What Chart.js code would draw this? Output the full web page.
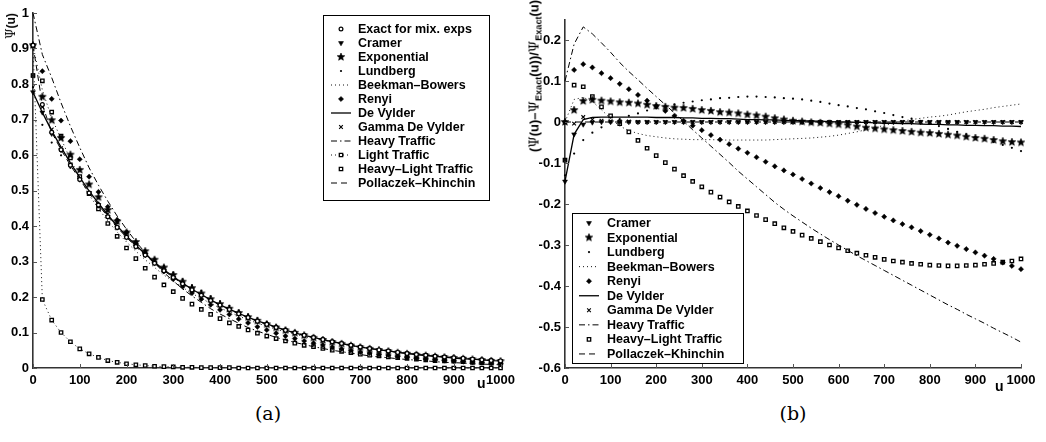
<!DOCTYPE html>
<html>
<head>
<meta charset="utf-8">
<script src="https://cdn.jsdelivr.net/npm/chart.js@4/dist/chart.umd.min.js"></script>
<style>
  html, body { margin: 0; padding: 0; background: #fff; }
  #wrap { position: relative; width: 1046px; height: 442px; overflow: hidden; background: #fff; }
  canvas { position: absolute; top: 0; }
  .lbl { position: absolute; font-family: 'Liberation Sans', Arial, Helvetica, sans-serif; font-weight: bold; color: #000; white-space: nowrap; }
  .rot { transform: translate(-50%, -50%) rotate(-90deg); line-height: 1; }
  .psi { font-family: 'DejaVu Serif', 'Liberation Serif', serif; font-weight: normal; }
  .rot sub { font-size: 70%; vertical-align: -0.35em; line-height: 0; }
  .cap { position: absolute; font-family: 'DejaVu Serif', 'Liberation Serif', serif; font-size: 19px; color: #000; transform: translate(-50%, -50%); }
</style>
</head>
<body>
<div id="wrap">
  <canvas id="chartA" width="520" height="400" style="left:0"></canvas>
  <canvas id="chartB" width="526" height="400" style="left:520px"></canvas>
  <div class="lbl rot" style="left:11px; top:26px; font-size:12px;"><span class="psi">Ψ</span>(u)</div>
  <div class="lbl rot" style="left:534px; top:76px; font-size:13px;">(<span class="psi">Ψ</span>(u)–<span class="psi">Ψ</span><sub>Exact</sub>(u))/<span class="psi">Ψ</span><sub>Exact</sub>(u)</div>
  <div class="lbl" style="left:477px; top:375px; font-size:14px;">u</div>
  <div class="lbl" style="left:995px; top:378px; font-size:14px;">u</div>
  <div class="cap" style="left:268px; top:413px;">(a)</div>
  <div class="cap" style="left:793px; top:413px;">(b)</div>
</div>
<script>
// Surplus grid (every 20 units)
const uValues = [0,20,40,60,80,100,120,140,160,180,200,220,240,260,280,300,320,340,360,380,400,
  420,440,460,480,500,520,540,560,580,600,620,640,660,680,700,720,740,760,780,800,
  820,840,860,880,900,920,940,960,980,1000];

// Tick values
const xTicks = [0,100,200,300,400,500,600,700,800,900,1000];
const yTicksPsi = [0,0.1,0.2,0.3,0.4,0.5,0.6,0.7,0.8,0.9,1];
const yTicksErr = [-0.6,-0.5,-0.4,-0.3,-0.2,-0.1,0,0.1,0.2];

// Panel (a): ruin probability Psi(u)
const psiExact = [0.909,0.742,0.664,0.615,0.571,0.531,0.493,0.459,0.426,0.396,0.368,0.342,0.318,0.295,0.274,0.255,0.237,0.220,0.205,0.190,0.177,0.165,0.153,0.142,0.132,0.123,0.114,0.106,0.099,0.092,0.086,0.080,0.074,0.069,0.064,0.059,0.055,0.051,0.048,0.044,0.041,0.038,0.036,0.033,0.031,0.029,0.027,0.025,0.023,0.021,0.020];
const psiCramer = [0.777,0.720,0.660,0.614,0.571,0.531,0.493,0.459,0.426,0.396,0.368,0.342,0.318,0.295,0.274,0.255,0.237,0.220,0.205,0.190,0.177,0.165,0.153,0.142,0.132,0.123,0.114,0.106,0.099,0.092,0.086,0.080,0.074,0.069,0.064,0.059,0.055,0.051,0.048,0.044,0.041,0.038,0.036,0.033,0.031,0.029,0.027,0.025,0.023,0.021,0.020];
const psiExponential = [0.909,0.764,0.698,0.648,0.601,0.558,0.517,0.481,0.445,0.413,0.382,0.355,0.329,0.305,0.283,0.262,0.243,0.225,0.210,0.194,0.180,0.167,0.155,0.143,0.133,0.123,0.114,0.106,0.099,0.092,0.085,0.079,0.073,0.068,0.063,0.058,0.054,0.050,0.047,0.043,0.040,0.037,0.035,0.032,0.030,0.028,0.026,0.024,0.022,0.020,0.019];
const psiLundberg = [0.791,0.685,0.635,0.599,0.564,0.530,0.496,0.466,0.435,0.407,0.380,0.355,0.332,0.309,0.288,0.269,0.250,0.233,0.217,0.202,0.188,0.175,0.162,0.151,0.140,0.130,0.120,0.112,0.104,0.096,0.090,0.083,0.077,0.071,0.066,0.060,0.056,0.052,0.048,0.044,0.041,0.038,0.035,0.032,0.030,0.028,0.026,0.024,0.022,0.020,0.019];
const psiBeekman = [0.909,0.783,0.704,0.646,0.588,0.535,0.488,0.449,0.414,0.383,0.355,0.329,0.305,0.283,0.262,0.244,0.227,0.210,0.196,0.182,0.169,0.158,0.146,0.136,0.126,0.118,0.109,0.102,0.095,0.089,0.083,0.078,0.072,0.068,0.063,0.059,0.055,0.051,0.048,0.044,0.041,0.039,0.037,0.034,0.032,0.030,0.028,0.026,0.024,0.022,0.021];
const psiRenyi = [0.909,0.836,0.758,0.697,0.639,0.588,0.539,0.496,0.454,0.417,0.382,0.351,0.323,0.296,0.272,0.250,0.229,0.211,0.194,0.178,0.164,0.151,0.138,0.127,0.116,0.107,0.098,0.090,0.083,0.076,0.070,0.065,0.059,0.054,0.050,0.045,0.042,0.038,0.036,0.032,0.030,0.027,0.025,0.023,0.021,0.020,0.018,0.017,0.015,0.014,0.013];
const psiDeVylder = [0.777,0.720,0.668,0.622,0.578,0.537,0.499,0.464,0.431,0.400,0.372,0.346,0.321,0.298,0.277,0.258,0.239,0.222,0.207,0.192,0.178,0.166,0.154,0.143,0.133,0.124,0.115,0.107,0.099,0.092,0.086,0.080,0.074,0.069,0.064,0.059,0.055,0.051,0.048,0.044,0.041,0.038,0.035,0.033,0.031,0.028,0.026,0.025,0.023,0.021,0.020];
const psiGammaDeVylder = [0.824,0.735,0.672,0.619,0.573,0.532,0.493,0.459,0.426,0.396,0.368,0.342,0.318,0.295,0.274,0.255,0.237,0.220,0.205,0.190,0.177,0.165,0.153,0.142,0.132,0.123,0.114,0.106,0.099,0.092,0.086,0.080,0.074,0.069,0.064,0.059,0.055,0.051,0.048,0.044,0.041,0.038,0.036,0.033,0.031,0.029,0.027,0.025,0.023,0.021,0.020];
const psiHeavy = [1.000,0.883,0.818,0.747,0.681,0.621,0.564,0.515,0.470,0.428,0.391,0.356,0.325,0.296,0.269,0.245,0.223,0.203,0.185,0.167,0.152,0.139,0.126,0.114,0.104,0.095,0.086,0.079,0.072,0.066,0.060,0.055,0.050,0.046,0.042,0.038,0.034,0.031,0.029,0.026,0.024,0.022,0.020,0.018,0.016,0.015,0.014,0.012,0.011,0.010,0.009];
const psiLight = [0.909,0.193,0.135,0.100,0.074,0.054,0.040,0.030,0.021,0.016,0.012,0.009,0.007,0.005,0.004,0.003,0.002,0.002,0.001,0.001,0.001,0.001,0.000,0.000,0.000,0.000,0.000,0.000,0.000,0.000,0.000,0.000,0.000,0.000,0.000,0.000,0.000,0.000,0.000,0.000,0.000,0.000,0.000,0.000,0.000,0.000,0.000,0.000,0.000,0.000,0.000];
const psiHeavyLight = [0.824,0.809,0.721,0.653,0.592,0.539,0.491,0.448,0.407,0.371,0.338,0.308,0.281,0.256,0.234,0.215,0.196,0.180,0.165,0.151,0.139,0.127,0.117,0.107,0.098,0.090,0.083,0.076,0.070,0.064,0.060,0.055,0.050,0.047,0.043,0.039,0.036,0.034,0.031,0.029,0.027,0.025,0.023,0.021,0.020,0.019,0.018,0.016,0.015,0.014,0.013];
const psiPollaczek = [0.909,0.742,0.664,0.615,0.571,0.531,0.493,0.459,0.426,0.396,0.368,0.342,0.318,0.295,0.274,0.255,0.237,0.220,0.205,0.190,0.177,0.165,0.153,0.142,0.132,0.123,0.114,0.106,0.099,0.092,0.086,0.080,0.074,0.069,0.064,0.059,0.055,0.051,0.048,0.044,0.041,0.038,0.036,0.033,0.031,0.029,0.027,0.025,0.023,0.021,0.020];

// Panel (b): relative error against the exact value
const errCramer = [-0.145,-0.030,-0.006,-0.001,0,0,0,0,0,0,0,0,0,0,0,0,0,0,0,0,0,0,0,0,0,0,0,0,0,0,0,0,0,0,0,0,0,0,0,0,0,0,0,0,0,0,0,0,0,0,0];
const errExponential = [0.000,0.029,0.051,0.054,0.052,0.050,0.048,0.047,0.045,0.042,0.039,0.037,0.035,0.034,0.032,0.029,0.027,0.024,0.023,0.021,0.018,0.016,0.013,0.009,0.006,0.003,0.001,-0.001,-0.002,-0.004,-0.006,-0.008,-0.011,-0.014,-0.016,-0.018,-0.020,-0.022,-0.024,-0.026,-0.027,-0.029,-0.031,-0.033,-0.036,-0.039,-0.041,-0.044,-0.047,-0.049,-0.050];
const errLundberg = [-0.130,-0.077,-0.044,-0.026,-0.013,-0.002,0.007,0.015,0.021,0.028,0.033,0.038,0.043,0.047,0.050,0.053,0.055,0.058,0.059,0.061,0.062,0.062,0.061,0.060,0.058,0.057,0.055,0.052,0.049,0.045,0.041,0.038,0.034,0.031,0.026,0.022,0.017,0.012,0.008,0.003,-0.003,-0.010,-0.017,-0.024,-0.030,-0.037,-0.043,-0.049,-0.056,-0.063,-0.071];
const errBeekman = [0.000,0.055,0.060,0.050,0.030,0.008,-0.010,-0.021,-0.028,-0.033,-0.036,-0.039,-0.041,-0.042,-0.043,-0.043,-0.043,-0.044,-0.044,-0.044,-0.044,-0.044,-0.044,-0.043,-0.042,-0.041,-0.040,-0.039,-0.037,-0.035,-0.032,-0.028,-0.024,-0.019,-0.014,-0.008,-0.003,0.002,0.006,0.009,0.012,0.014,0.017,0.021,0.025,0.028,0.031,0.035,0.038,0.041,0.044];
const errRenyi = [0.000,0.127,0.141,0.133,0.119,0.107,0.093,0.080,0.066,0.052,0.039,0.027,0.015,0.003,-0.009,-0.020,-0.032,-0.043,-0.054,-0.065,-0.075,-0.086,-0.097,-0.108,-0.118,-0.128,-0.139,-0.150,-0.161,-0.171,-0.181,-0.192,-0.202,-0.212,-0.222,-0.231,-0.240,-0.249,-0.257,-0.266,-0.275,-0.284,-0.294,-0.302,-0.310,-0.318,-0.326,-0.334,-0.343,-0.351,-0.359];
const errDeVylder = [-0.145,-0.030,0.006,0.011,0.012,0.012,0.012,0.012,0.012,0.012,0.011,0.011,0.011,0.010,0.010,0.009,0.009,0.008,0.008,0.007,0.006,0.006,0.005,0.005,0.004,0.003,0.003,0.002,0.002,0.001,0.000,0.000,-0.001,-0.001,-0.002,-0.003,-0.003,-0.004,-0.004,-0.005,-0.006,-0.006,-0.007,-0.007,-0.008,-0.008,-0.009,-0.009,-0.010,-0.010,-0.011];
const errGammaDeVylder = [-0.093,-0.004,0.012,0.006,0.003,0.002,0.001,0.001,0,0,0,0,0,0,0,0,0,0,0,0,0,0,0,0,0,0,0,0,0,0,0,0,0,0,0,0,0,0,0,0,0,0,0,0,0,0,0,0,0,0,0];
const errHeavy = [0.100,0.190,0.232,0.215,0.193,0.170,0.145,0.123,0.103,0.082,0.062,0.042,0.022,0.002,-0.019,-0.039,-0.059,-0.079,-0.099,-0.120,-0.139,-0.158,-0.177,-0.196,-0.213,-0.229,-0.244,-0.259,-0.273,-0.287,-0.300,-0.313,-0.326,-0.338,-0.350,-0.362,-0.374,-0.386,-0.398,-0.410,-0.422,-0.434,-0.446,-0.457,-0.469,-0.480,-0.491,-0.503,-0.514,-0.525,-0.537];
const errHeavyLight = [-0.093,0.090,0.086,0.062,0.037,0.015,-0.004,-0.024,-0.045,-0.064,-0.082,-0.099,-0.115,-0.131,-0.145,-0.158,-0.171,-0.183,-0.195,-0.206,-0.217,-0.228,-0.238,-0.248,-0.258,-0.267,-0.276,-0.284,-0.292,-0.300,-0.307,-0.314,-0.320,-0.325,-0.330,-0.335,-0.339,-0.342,-0.345,-0.347,-0.349,-0.350,-0.351,-0.351,-0.350,-0.349,-0.347,-0.345,-0.342,-0.339,-0.334];
const errPollaczek = [0,0,0,0,0,0,0,0,0,0,0,0,0,0,0,0,0,0,0,0,0,0,0,0,0,0,0,0,0,0,0,0,0,0,0,0,0,0,0,0,0,0,0,0,0,0,0,0,0,0,0];

// ---------- marker / line styles ----------
function starMarker(outer, inner) {
  const s = Math.ceil(outer * 2 + 2);
  const c = document.createElement('canvas');
  c.width = s; c.height = s;
  const g = c.getContext('2d');
  g.translate(s / 2, s / 2);
  g.beginPath();
  for (let k = 0; k < 10; k++) {
    const r = k % 2 ? inner : outer;
    const a = -Math.PI / 2 + k * Math.PI / 5;
    g.lineTo(r * Math.cos(a), r * Math.sin(a));
  }
  g.closePath();
  g.fillStyle = '#000';
  g.fill();
  g.lineWidth = 0.6;
  g.strokeStyle = '#000';
  g.stroke();
  return c;
}
const starImg = starMarker(4, 1.8);

const K = '#000';
const noLine = { showLine: false, borderWidth: 1, borderColor: K };
const styles = {
  exact:      { ...noLine, pointStyle: 'circle', pointRadius: 1.9, pointBorderWidth: 1.2, pointBackgroundColor: '#fff', pointBorderColor: K },
  cramer:     { ...noLine, pointStyle: 'triangle', pointRotation: 180, pointRadius: 2.8, pointBorderWidth: 0.6, pointBackgroundColor: K, pointBorderColor: K },
  exponential:{ ...noLine, pointStyle: starImg, pointRadius: 3.5, pointBorderWidth: 0, pointBackgroundColor: K, pointBorderColor: K },
  lundberg:   { ...noLine, pointStyle: 'circle', pointRadius: 1.1, pointBorderWidth: 0, pointBackgroundColor: K, pointBorderColor: K },
  beekman:    { showLine: true, borderColor: '#111', borderWidth: 1, borderDash: [1, 3], pointRadius: 0 },
  renyi:      { ...noLine, pointStyle: 'rectRot', pointRadius: 2.6, pointBorderWidth: 0.5, pointBackgroundColor: K, pointBorderColor: K },
  devylder:   { showLine: true, borderColor: K, borderWidth: 1.3, pointRadius: 0 },
  gamma:      { ...noLine, pointStyle: 'crossRot', pointRadius: 2.6, pointBorderWidth: 1.1, pointBackgroundColor: K, pointBorderColor: K },
  heavy:      { showLine: true, borderColor: K, borderWidth: 1, borderDash: [6, 3, 1.5, 3], pointRadius: 0 },
  light:      { showLine: true, borderColor: '#111', borderWidth: 1, borderDash: [1, 3], pointStyle: 'rect', pointRadius: 2.4, pointBorderWidth: 1.3, pointBackgroundColor: '#fff', pointBorderColor: K },
  heavyLight: { ...noLine, pointStyle: 'rect', pointRadius: 2.4, pointBorderWidth: 1.3, pointBackgroundColor: '#fff', pointBorderColor: K },
  pk:         { showLine: true, borderColor: K, borderWidth: 1, borderDash: [6, 4], pointRadius: 0 }
};

function series(label, values, style) {
  return Object.assign({
    label,
    data: uValues.map((u, i) => ({ x: u, y: values[i] })),
    tension: 0,
    clip: false,
    pointHoverRadius: 0
  }, style);
}

// ---------- plugins ----------
const boxLegend = {
  id: 'boxLegend',
  afterDatasetsDraw(chart, args, o) {
    const ctx = chart.ctx;
    const drawPt = Chart.helpers && Chart.helpers.drawPoint;
    ctx.save();
    ctx.fillStyle = '#fff';
    ctx.fillRect(o.x, o.y, o.w, o.h);
    ctx.strokeStyle = '#000';
    ctx.lineWidth = 1;
    ctx.strokeRect(o.x + 0.5, o.y + 0.5, o.w, o.h);
    ctx.font = o.font;
    ctx.textBaseline = 'middle';
    ctx.textAlign = 'left';
    chart.data.datasets.forEach((ds, i) => {
      const y = o.firstRow + i * o.rowGap;
      if (ds.showLine !== false) {
        ctx.save();
        ctx.strokeStyle = ds.borderColor;
        ctx.lineWidth = ds.borderWidth;
        ctx.setLineDash(ds.borderDash || []);
        ctx.beginPath();
        ctx.moveTo(o.sampleX0, y);
        ctx.lineTo(o.sampleX1, y);
        ctx.stroke();
        ctx.restore();
      }
      if (ds.pointRadius > 0 && drawPt) {
        ctx.save();
        ctx.fillStyle = ds.pointBackgroundColor;
        ctx.strokeStyle = ds.pointBorderColor;
        ctx.lineWidth = ds.pointBorderWidth;
        drawPt(ctx, {
          pointStyle: ds.pointStyle,
          rotation: ds.pointRotation || 0,
          radius: ds.pointRadius,
          borderWidth: ds.pointBorderWidth
        }, (o.sampleX0 + o.sampleX1) / 2, y);
        ctx.restore();
      }
      ctx.fillStyle = '#000';
      ctx.fillText(ds.label, o.textX, y + 0.5);
    });
    ctx.restore();
  }
};

const inwardTicks = {
  id: 'inwardTicks',
  afterDraw(chart) {
    const { ctx, chartArea: a, scales: { x, y } } = chart;
    ctx.save();
    ctx.strokeStyle = '#555';
    ctx.lineWidth = 1;
    ctx.beginPath();
    x.ticks.forEach(t => {
      const px = Math.round(x.getPixelForValue(t.value)) + 0.5;
      ctx.moveTo(px, a.bottom);
      ctx.lineTo(px, a.bottom - 4);
    });
    y.ticks.forEach(t => {
      const py = Math.round(y.getPixelForValue(t.value)) + 0.5;
      ctx.moveTo(a.left, py);
      ctx.lineTo(a.left + 4, py);
    });
    ctx.stroke();
    ctx.restore();
  }
};

const tickFont = { family: "'Liberation Sans', Arial, Helvetica, sans-serif", size: 13, weight: 'bold' };
const legendFont = "bold 12.5px 'Liberation Sans', Arial, Helvetica, sans-serif";
const plainNumber = v => String(v);

function axes(yMin, yMax, yTicks, yWidth) {
  return {
    x: {
      type: 'linear', min: 0, max: 1000,
      afterBuildTicks: s => { s.ticks = xTicks.map(v => ({ value: v })); },
      afterFit: s => { s.height = 32; },
      grid: { display: false, drawTicks: false },
      border: { display: true, color: '#333', width: 1.6 },
      ticks: { font: tickFont, color: '#000', padding: 5, maxRotation: 0, autoSkip: false, callback: plainNumber }
    },
    y: {
      type: 'linear', min: yMin, max: yMax,
      afterBuildTicks: s => { s.ticks = yTicks.map(v => ({ value: v })); },
      afterFit: s => { s.width = yWidth; },
      grid: { display: false, drawTicks: false },
      border: { display: true, color: '#333', width: 1.6 },
      ticks: { font: tickFont, color: '#000', padding: 4, autoSkip: false, callback: plainNumber }
    }
  };
}

const common = { responsive: false, animation: false, devicePixelRatio: 1, events: [] };

// ---------- panel (a) ----------
new Chart(document.getElementById('chartA'), {
  type: 'line',
  data: {
    datasets: [
      series('Exact for mix. exps', psiExact, styles.exact),
      series('Cramer', psiCramer, styles.cramer),
      series('Exponential', psiExponential, styles.exponential),
      series('Lundberg', psiLundberg, styles.lundberg),
      series('Beekman–Bowers', psiBeekman, styles.beekman),
      series('Renyi', psiRenyi, styles.renyi),
      series('De Vylder', psiDeVylder, styles.devylder),
      series('Gamma De Vylder', psiGammaDeVylder, styles.gamma),
      series('Heavy Traffic', psiHeavy, styles.heavy),
      series('Light Traffic', psiLight, styles.light),
      series('Heavy–Light Traffic', psiHeavyLight, styles.heavyLight),
      series('Pollaczek–Khinchin', psiPollaczek, styles.pk)
    ]
  },
  options: {
    ...common,
    layout: { padding: { left: 0, right: 16, top: 13, bottom: 0 } },
    plugins: {
      legend: { display: false },
      tooltip: { enabled: false },
      boxLegend: { x: 323, y: 15, w: 166, h: 185, firstRow: 29, rowGap: 14, sampleX0: 331, sampleX1: 351, textX: 358, font: legendFont }
    },
    scales: axes(0, 1, yTicksPsi, 33)
  },
  plugins: [boxLegend, inwardTicks]
});

// ---------- panel (b) ----------
new Chart(document.getElementById('chartB'), {
  type: 'line',
  data: {
    datasets: [
      series('Cramer', errCramer, styles.cramer),
      series('Exponential', errExponential, styles.exponential),
      series('Lundberg', errLundberg, styles.lundberg),
      series('Beekman–Bowers', errBeekman, styles.beekman),
      series('Renyi', errRenyi, styles.renyi),
      series('De Vylder', errDeVylder, styles.devylder),
      series('Gamma De Vylder', errGammaDeVylder, styles.gamma),
      series('Heavy Traffic', errHeavy, styles.heavy),
      series('Heavy–Light Traffic', errHeavyLight, styles.heavyLight),
      series('Pollaczek–Khinchin', errPollaczek, styles.pk)
    ]
  },
  options: {
    ...common,
    layout: { padding: { left: 0, right: 25, top: 19.5, bottom: 0 } },
    plugins: {
      legend: { display: false },
      tooltip: { enabled: false },
      boxLegend: { x: 52, y: 213, w: 171, h: 150, firstRow: 223, rowGap: 14.55, sampleX0: 59, sampleX1: 79, textX: 87, font: legendFont }
    },
    scales: axes(-0.6, 0.25, yTicksErr, 45)
  },
  plugins: [boxLegend, inwardTicks]
});
</script>
</body>
</html>
